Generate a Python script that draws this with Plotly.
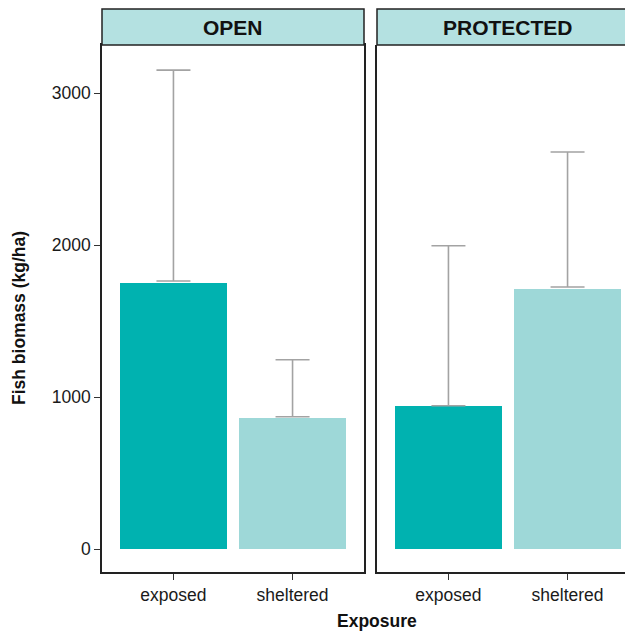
import plotly.graph_objects as go

panels = ["OPEN", "PROTECTED"]
exposure = ["exposed", "sheltered"]
mean_open = [1750, 862]
mean_prot = [941, 1711]
err_low_open = [1763, 870]
err_high_open = [3151, 1245]
err_low_prot = [943, 1724]
err_high_prot = [1995, 2612]
y_ticks = [0, 1000, 2000, 3000]

bar_colors = ["#00B2B0", "#9ED8D8"]
strip_fill = "#B4E1E1"
err_color = "#A3A3A3"
font_family = "Liberation Sans, Arial, sans-serif"

# the page body has an 8px default margin; lay out in page pixels and offset
OFF = 8
W, H = 633 - OFF, 632 - OFF
L, R, T, B = 102, 633, 9, 572      # page px: plot-area left/right, strip top, panel bottom
ml, mt = L - OFF, T - OFF
mr = 0
mb = H - (B - OFF)
pw = W - ml - mr
ph = H - mt - mb

def px(xp):
    return (xp - L) / pw

def py(yp):
    return (B - yp) / ph

x1_dom = [0, px(364)]
x2_dom = [px(377), 1]
y_dom = [0, py(45)]

fig = go.Figure()
data = [(mean_open, err_low_open, err_high_open, "x", "y"),
        (mean_prot, err_low_prot, err_high_prot, "x2", "y2")]
for means, lows, highs, xa, ya in data:
    fig.add_trace(go.Bar(x=exposure, y=means, width=0.9,
                         marker=dict(color=bar_colors, line=dict(width=0)),
                         xaxis=xa, yaxis=ya, showlegend=False))
    fig.add_trace(go.Scatter(x=exposure, y=lows, mode="markers",
                             marker=dict(size=1, opacity=0),
                             error_y=dict(type="data", symmetric=False,
                                          array=[h - l for h, l in zip(highs, lows)],
                                          arrayminus=[0, 0],
                                          color=err_color, thickness=1.6, width=17),
                             xaxis=xa, yaxis=ya, showlegend=False, hoverinfo="skip"))

yr = [-151, 3316]
tickfont = dict(size=17.5, color="#1a1a1a", family=font_family)
common_x = dict(showgrid=False, zeroline=False, ticks="outside", ticklen=6,
                tickcolor="#333333", tickwidth=1.3, tickfont=tickfont,
                showline=True, linecolor="#222222", linewidth=1.5, automargin=False)
x2_span = (633 - 377) / ((364 - 102) / 2.2)
fig.update_layout(
    width=W, height=H,
    margin=dict(l=ml, r=mr, t=mt, b=mb, autoexpand=False),
    plot_bgcolor="white", paper_bgcolor="white",
    font=dict(family=font_family),
    bargap=0,
    xaxis=dict(domain=x1_dom, range=[-0.6, 1.6], mirror=True, **common_x),
    xaxis2=dict(domain=x2_dom, range=[-0.6, -0.6 + x2_span], mirror=False, **common_x),
    yaxis=dict(domain=y_dom, range=yr, tickvals=y_ticks, showgrid=False, zeroline=False,
               ticks="outside", ticklen=6, tickcolor="#333333", tickwidth=1.3,
               tickfont=tickfont, automargin=False,
               showline=True, linecolor="#222222", linewidth=1.5, mirror=True),
    yaxis2=dict(domain=y_dom, range=yr, anchor="x2", matches="y", showticklabels=False,
                showgrid=False, zeroline=False, ticks="", automargin=False,
                showline=True, linecolor="#222222", linewidth=1.5),
)

ytop = y_dom[1]
strips = [(364 - 102, x1_dom[0], x1_dom[1], panels[0]),
          (364 - 102, x2_dom[0], 1.02, panels[1])]
for wpx, x0, x1, label in strips:
    fig.add_shape(type="rect", xref="paper", yref="paper", x0=x0, x1=x1,
                  y0=ytop, y1=1.0, fillcolor=strip_fill,
                  line=dict(color="#222222", width=1.5), layer="above")
    cx = x0 + (wpx / 2) / pw
    fig.add_annotation(text="<b>" + label + "</b>", xref="paper", yref="paper",
                       x=cx, y=py(28), xanchor="center", yanchor="middle",
                       showarrow=False,
                       font=dict(size=21, color="#111111", family=font_family))

fig.add_annotation(text="<b>Exposure</b>", xref="paper", yref="paper",
                   x=px(377), y=py(621), xanchor="center",
                   yanchor="middle", showarrow=False,
                   font=dict(size=17.5, color="#111111", family=font_family))
fig.add_annotation(text="<b>Fish biomass (kg/ha)</b>", xref="paper", yref="paper",
                   x=px(19), y=py(318),
                   xanchor="center", yanchor="middle", textangle=-90, showarrow=False,
                   font=dict(size=17.5, color="#111111", family=font_family))

fig.write_html("out.html")
